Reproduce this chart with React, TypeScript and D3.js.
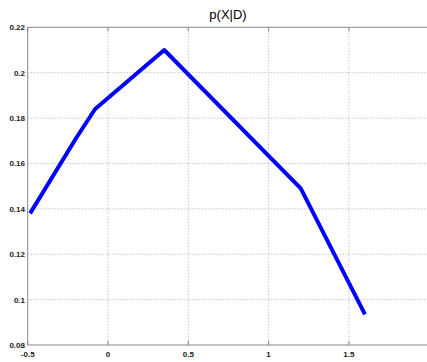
import React from "react";
import * as d3 from "d3";

const xValues = [-0.485, -0.2, -0.08, 0.35, 1.2, 1.6];
const yValues = [0.138, 0.171, 0.184, 0.21, 0.149, 0.0935];
const xTicks = [-0.5, 0, 0.5, 1, 1.5];
const yTicks = [0.08, 0.1, 0.12, 0.14, 0.16, 0.18, 0.2, 0.22];
const title = "p(X|D)";

export default function App() {
  const W = 427, H = 362;
  const x = d3.scaleLinear().domain([-0.5, 2]).range([27.7, 429.2]);
  const y = d3.scaleLinear().domain([0.08, 0.22]).range([345, 27.3]);
  const line = d3.line<number>().x((_, i) => x(xValues[i])).y((d) => y(d));
  const fmt = (v: number) => String(v);
  return (
    <svg width={W} height={H} style={{ position: "absolute", left: 0, top: 0, background: "#fff" }}
      fontFamily="Liberation Sans, Arial, sans-serif">
      {xTicks.slice(1).map((t) => (
        <line key={"gx" + t} x1={x(t)} x2={x(t)} y1={y(0.22)} y2={y(0.08)} stroke="#aaa" strokeWidth={1} strokeDasharray="1,2" />
      ))}
      {yTicks.slice(1, -1).map((t) => (
        <line key={"gy" + t} x1={x(-0.5)} x2={W} y1={y(t)} y2={y(t)} stroke="#aaa" strokeWidth={1} strokeDasharray="1,2" />
      ))}
      {xTicks.map((t) => (
        <g key={"tx" + t}>
          <line x1={x(t)} x2={x(t)} y1={y(0.08)} y2={y(0.08) - 4} stroke="#888" />
          <line x1={x(t)} x2={x(t)} y1={y(0.22)} y2={y(0.22) + 4} stroke="#888" />
        </g>
      ))}
      <line x1={x(-0.5)} x2={W} y1={y(0.22)} y2={y(0.22)} stroke="#888" strokeWidth={1} />
      <line x1={x(-0.5)} x2={W} y1={y(0.08)} y2={y(0.08)} stroke="#888" strokeWidth={1} />
      <line x1={x(-0.5)} x2={x(-0.5)} y1={y(0.22)} y2={y(0.08)} stroke="#888" strokeWidth={1} />
      <path d={line(yValues) || ""} fill="none" stroke="#0000ff" strokeWidth={4} strokeLinejoin="round" />
      {yTicks.map((t) => (
        <text key={"ly" + t} x={25} y={y(t) + 3} textAnchor="end" fontSize={8} fontWeight="bold" fill="#222">{fmt(t)}</text>
      ))}
      {xTicks.map((t) => (
        <text key={"lx" + t} x={x(t)} y={357} textAnchor="middle" fontSize={8} fontWeight="bold" fill="#222">{fmt(t)}</text>
      ))}
      <text x={228} y={19} textAnchor="middle" fontSize={13} fill="#000">{title}</text>
    </svg>
  );
}
